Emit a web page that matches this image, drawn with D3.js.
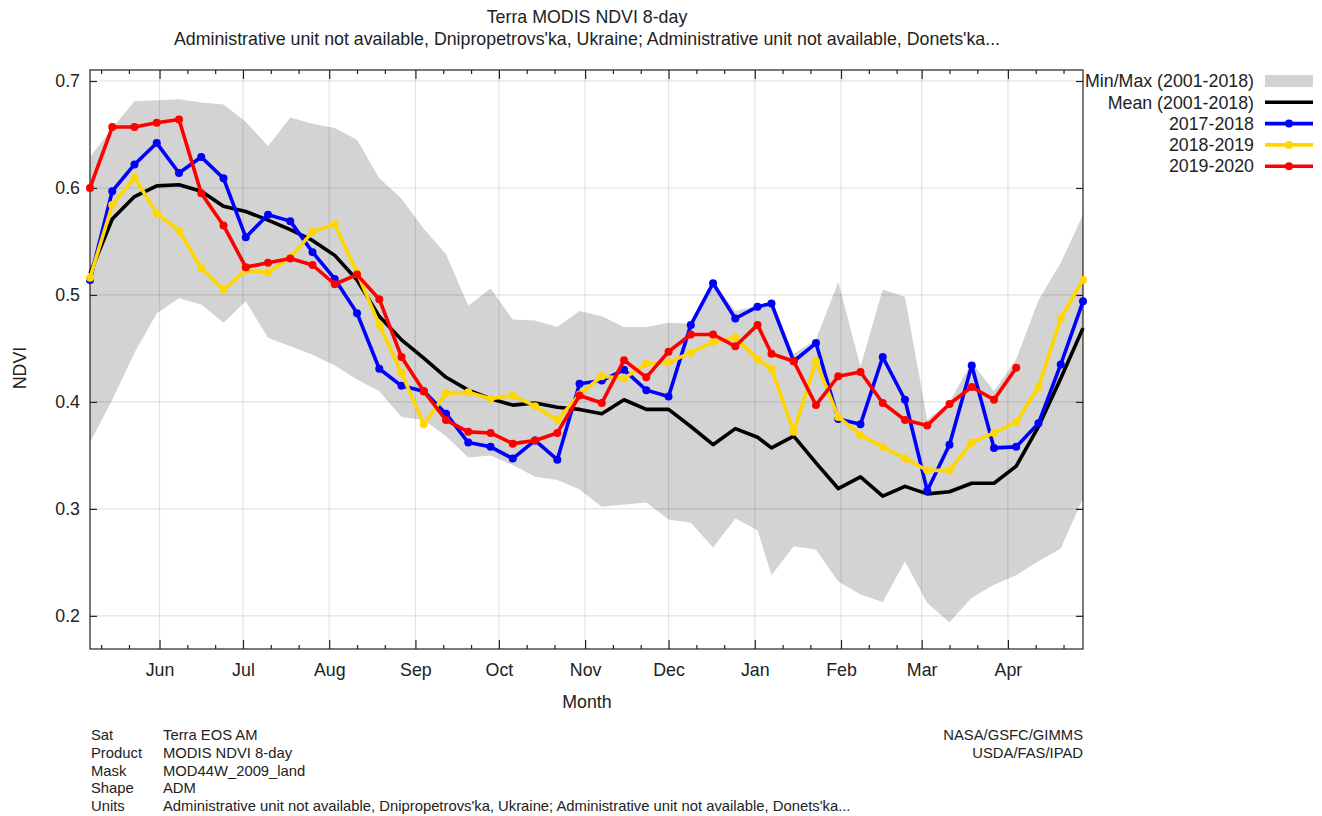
<!DOCTYPE html>
<html>
<head>
<meta charset="utf-8">
<script src="https://cdn.jsdelivr.net/npm/d3@7"></script>
<style>
  body { margin: 0; background: #fff; }
  svg text { font-family: "Liberation Sans", Arial, sans-serif; fill: #222; }
</style>
</head>
<body>
<div id="chart"></div>
<script>
// MODIS 8-day composite start day-of-year, season May 2019 - Apr 2020
const doy = [121,129,137,145,153,161,169,177,185,193,201,209,217,225,233,241,249,257,265,273,281,289,297,305,313,321,329,337,345,353,361,
             1,9,17,25,33,41,49,57,65,73,81,89,97,105,113];

const minNdvi = [0.362,0.402,0.446,0.483,0.497,0.491,0.474,0.494,0.460,0.452,0.444,0.434,0.421,0.410,0.386,0.383,0.368,0.348,0.350,0.341,
                 0.330,0.327,0.318,0.302,0.304,0.306,0.290,0.287,0.264,0.291,0.280,0.238,0.265,0.262,0.232,0.220,0.213,0.251,0.212,0.194,
                 0.217,0.229,0.238,0.251,0.263,0.310];
const maxNdvi = [0.629,0.656,0.681,0.682,0.683,0.680,0.678,0.662,0.639,0.666,0.660,0.656,0.645,0.609,0.590,0.562,0.538,0.490,0.506,0.477,
                 0.476,0.470,0.485,0.480,0.470,0.470,0.474,0.473,0.512,0.485,0.490,0.493,0.445,0.458,0.512,0.433,0.505,0.498,0.383,0.400,
                 0.437,0.410,0.440,0.495,0.530,0.575];
const meanNdvi = [0.520,0.571,0.592,0.602,0.603,0.597,0.583,0.578,0.570,0.561,0.551,0.537,0.514,0.480,0.458,0.441,0.423,0.411,0.403,0.397,
                  0.399,0.395,0.393,0.389,0.402,0.393,0.393,0.377,0.360,0.375,0.367,0.357,0.368,0.343,0.319,0.330,0.312,0.321,0.314,0.316,
                  0.324,0.324,0.340,0.377,0.422,0.469];
const s2017 = [0.514,0.597,0.622,0.642,0.614,0.629,0.609,0.554,0.575,0.569,0.540,0.515,0.483,0.431,0.415,0.410,0.389,0.362,0.358,0.347,
               0.364,0.346,0.417,0.420,0.430,0.411,0.405,0.472,0.511,0.478,0.489,0.492,0.438,0.455,0.384,0.379,0.442,0.402,0.317,0.360,
               0.434,0.357,0.358,0.380,0.435,0.494];
const s2018 = [0.516,0.584,0.610,0.576,0.560,0.525,0.505,0.523,0.521,0.535,0.559,0.566,0.521,0.472,0.427,0.379,0.408,0.409,0.403,0.406,
               0.396,0.383,0.407,0.424,0.422,0.436,0.437,0.446,0.456,0.460,0.440,0.431,0.372,0.438,0.386,0.369,0.358,0.347,0.336,0.336,
               0.362,0.371,0.381,0.414,0.478,0.514];
const s2019 = [0.600,0.657,0.657,0.661,0.664,0.595,0.565,0.526,0.530,0.534,0.528,0.510,0.519,0.496,0.442,0.410,0.383,0.372,0.371,0.361,
               0.364,0.371,0.406,0.399,0.439,0.423,0.447,0.463,0.463,0.452,0.472,0.445,0.438,0.397,0.424,0.428,0.399,0.383,0.378,0.398,
               0.414,0.402,0.432];

const yTicks = [0.2, 0.3, 0.4, 0.5, 0.6, 0.7];
const seriesNames = ["2017-2018", "2018-2019", "2019-2020"];
const seriesColors = ["#0000ff", "#ffd700", "#ff0000"];
const footer = [
  ["Sat", "Terra EOS AM"],
  ["Product", "MODIS NDVI 8-day"],
  ["Mask", "MOD44W_2009_land"],
  ["Shape", "ADM"],
  ["Units", "Administrative unit not available, Dnipropetrovs'ka, Ukraine; Administrative unit not available, Donets'ka..."]
];
const credits = ["NASA/GSFC/GIMMS", "USDA/FAS/IPAD"];

const width = 1322, height = 816;
const margin = { top: 70, right: 239, bottom: 167, left: 90 };
const x0 = margin.left, x1 = width - margin.right, y0 = margin.top, y1 = height - margin.bottom;
const bigFont = "17.8px", footFont = "14.8px";

// points are drawn at composite start + 6 days
let yr = 2019;
const dates = doy.map((d, i) => {
  if (i > 0 && d < doy[i - 1]) yr += 1;
  return new Date(yr, 0, d + 6);
});

const x = d3.scaleTime().domain(d3.extent(dates)).range([x0, x1]);
const y = d3.scaleLinear().domain([0.169, 0.7103]).range([y1, y0]);

const svg = d3.select("#chart").append("svg").attr("width", width).attr("height", height);

// title
svg.append("text").attr("x", 587).attr("y", 23).attr("text-anchor", "middle")
  .style("font-size", bigFont).text("Terra MODIS NDVI 8-day");
svg.append("text").attr("x", 587).attr("y", 45).attr("text-anchor", "middle")
  .style("font-size", bigFont)
  .text("Administrative unit not available, Dnipropetrovs'ka, Ukraine; Administrative unit not available, Donets'ka...");

const plot = svg.append("g");

// min/max band
const idx = d3.range(doy.length);
plot.append("path")
  .datum(idx)
  .attr("fill", "#d3d3d3")
  .attr("d", d3.area().x(i => x(dates[i])).y0(i => y(minNdvi[i])).y1(i => y(maxNdvi[i])));

// grid
const majorTicks = d3.timeMonth.range(x.domain()[0], x.domain()[1]);
const minorTicks = d3.timeDay.filter(d => d.getDate() === 11 || d.getDate() === 21)
  .range(x.domain()[0], x.domain()[1]);

plot.append("g").selectAll("line").data(majorTicks).join("line")
  .attr("x1", d => x(d)).attr("x2", d => x(d)).attr("y1", y0).attr("y2", y1)
  .attr("stroke", "rgba(0,0,0,0.11)").attr("stroke-width", 1.2);
plot.append("g").selectAll("line").data(yTicks).join("line")
  .attr("x1", x0).attr("x2", x1).attr("y1", d => y(d)).attr("y2", d => y(d))
  .attr("stroke", "rgba(0,0,0,0.11)").attr("stroke-width", 1.2);

// axes (ticks point inward)
const axes = svg.append("g");
axes.append("g").attr("transform", `translate(0,${y1})`)
  .call(d3.axisBottom(x).tickValues(majorTicks).tickSize(-9).tickPadding(14).tickFormat(d3.timeFormat("%b")))
  .call(g => g.select(".domain").remove())
  .call(g => g.selectAll("text").style("font-size", bigFont));
axes.append("g").attr("transform", `translate(0,${y1})`)
  .call(d3.axisBottom(x).tickValues(minorTicks).tickSize(-4).tickFormat(""))
  .call(g => g.select(".domain").remove());
axes.append("g").attr("transform", `translate(0,${y0})`)
  .call(d3.axisTop(x).tickValues(majorTicks).tickSize(-9).tickFormat(""))
  .call(g => g.select(".domain").remove());
axes.append("g").attr("transform", `translate(0,${y0})`)
  .call(d3.axisTop(x).tickValues(minorTicks).tickSize(-4).tickFormat(""))
  .call(g => g.select(".domain").remove());
axes.append("g").attr("transform", `translate(${x0},0)`)
  .call(d3.axisLeft(y).tickValues(yTicks).tickSize(-7).tickPadding(10).tickFormat(d3.format(".1f")))
  .call(g => g.select(".domain").remove())
  .call(g => g.selectAll("text").style("font-size", bigFont));
axes.append("g").attr("transform", `translate(${x1},0)`)
  .call(d3.axisRight(y).tickValues(yTicks).tickSize(-7).tickFormat(""))
  .call(g => g.select(".domain").remove());
axes.selectAll(".tick line").attr("stroke", "#222").attr("stroke-width", 1.2);

svg.append("rect").attr("x", x0).attr("y", y0).attr("width", x1 - x0).attr("height", y1 - y0)
  .attr("fill", "none").attr("stroke", "#222").attr("stroke-width", 1.2);

// mean and seasons (all points lie inside the x domain, so no clipping)
const series = svg.append("g");
const line = vals => d3.line().x(i => x(dates[i])).y(i => y(vals[i]));
series.append("path").datum(idx)
  .attr("fill", "none").attr("stroke", "#000").attr("stroke-width", 3.6)
  .attr("stroke-linejoin", "round")
  .attr("d", line(meanNdvi));

[s2017, s2018, s2019].forEach((vals, k) => {
  const ii = d3.range(vals.length);
  series.append("path").datum(ii)
    .attr("fill", "none").attr("stroke", seriesColors[k]).attr("stroke-width", 3.6)
    .attr("stroke-linejoin", "round")
    .attr("d", line(vals));
  series.append("g").selectAll("circle").data(ii).join("circle")
    .attr("cx", i => x(dates[i])).attr("cy", i => y(vals[i])).attr("r", 4)
    .attr("fill", seriesColors[k]);
});

// axis titles
svg.append("text").attr("x", 587).attr("y", 708).attr("text-anchor", "middle")
  .style("font-size", bigFont).text("Month");
svg.append("text").attr("transform", "translate(26,368) rotate(-90)").attr("text-anchor", "middle")
  .style("font-size", bigFont).text("NDVI");

// legend
const legendItems = [
  { name: "Min/Max (2001-2018)", type: "band" },
  { name: "Mean (2001-2018)", type: "line", color: "#000" },
  ...seriesNames.map((n, k) => ({ name: n, type: "marker", color: seriesColors[k] }))
];
const legend = svg.append("g");
legendItems.forEach((d, k) => {
  const ly = 81 + k * 21.3;
  legend.append("text").attr("x", 1254).attr("y", ly).attr("dy", "0.35em")
    .attr("text-anchor", "end").style("font-size", bigFont).text(d.name);
  if (d.type === "band") {
    legend.append("rect").attr("x", 1265).attr("y", ly - 6).attr("width", 48).attr("height", 12)
      .attr("fill", "#d3d3d3");
  } else {
    legend.append("line").attr("x1", 1265).attr("x2", 1313).attr("y1", ly).attr("y2", ly)
      .attr("stroke", d.color).attr("stroke-width", 3.6);
    if (d.type === "marker") {
      legend.append("circle").attr("cx", 1289).attr("cy", ly).attr("r", 4).attr("fill", d.color);
    }
  }
});

// footer
const foot = svg.append("g").style("font-size", footFont);
footer.forEach((r, k) => {
  const fy = 740 + k * 17.8;
  foot.append("text").attr("x", 91).attr("y", fy).text(r[0]);
  foot.append("text").attr("x", 163).attr("y", fy).text(r[1]);
});
credits.forEach((c, k) => {
  foot.append("text").attr("x", 1083).attr("y", 740 + k * 17.8).attr("text-anchor", "end").text(c);
});
</script>
</body>
</html>
